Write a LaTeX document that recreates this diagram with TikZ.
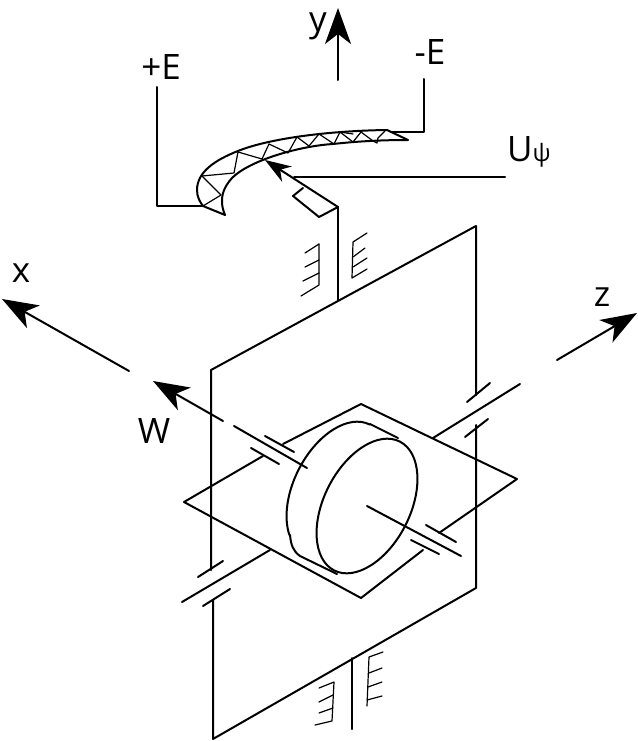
\documentclass[tikz,border=0pt]{standalone}
\usepackage{fontspec}
\setmainfont{Open Sans}
\usetikzlibrary{arrows.meta}
\tikzset{
  heavy/.style={line width=2pt},
  fine/.style={line width=1.2pt},
  axisarrow/.style={line width=2pt,-{Stealth[length=36pt,width=26pt,inset=10pt]}},
  lab/.style={inner sep=0pt,font=\fontsize{35}{35}\selectfont}
}
\begin{document}
\begin{tikzpicture}[line cap=round,line join=round,x=1pt,y=-1pt]
	\useasboundingbox (0,0) rectangle (637,741);
	% axes
	\draw [axisarrow] (338,80)-- (338,8);
	\draw [axisarrow] (129,371)-- (2,299);
	\draw [axisarrow] (223,421)-- (153,381);
	\draw [axisarrow] (557,360)-- (637,313);
	\node [lab] (ylab) at (318,26) {y};
	\node [lab] (xlab) at (21,273) {x};
	\node [lab] (zlab) at (602,297) {z};
	\node [lab] (wlab) at (154,431) {W};
	\node [lab] (pluslab) at (161,67) {+E};
	\node [lab] (minuslab) at (430,52) {-E};
	\node [lab,anchor=west] (ulab) at (507,152) {U\fontsize{24}{24}\selectfont ψ};
	% leads
	\draw [heavy] (157,87)-- (157,206)-- (204,206);
	\draw [heavy] (424,79)-- (424,132)-- (392,132);
	\draw [heavy] (505,177)-- (294,177);
	% horn
	\draw [heavy] (387,130) .. controls (320,131) and (265,140) .. (238,151)
		.. controls (215,160) and (197,172) .. (197,190)
		.. controls (197,197) and (200,202) .. (203,206)-- (225,215)
		.. controls (218,198) and (224,187) .. (232,178)
		.. controls (250,160) and (300,146) .. (333,144)
		.. controls (360,141) and (385,140) .. (408,140)-- cycle;
	\draw [fine] (202,176)-- (234,173)-- (238,152)-- (262,159)-- (269,144)-- (288,153)-- (297,137)-- (309,146)-- (319,134)-- (334,144)-- (340,132)-- (353,142)-- (361,132)-- (373,141)-- (377,143)-- (378,138)-- (385,131);
	\draw [fine] (202,176)-- (221,195)-- (203,206);
	\draw [fine] (340,132)-- (353,134);
	% rocker and arrow
	\draw [heavy] (338,207)-- (319,217)-- (293,196)-- (303,188);
	\draw [line width=2pt,-{Stealth[length=26pt,width=18pt,inset=8pt]}] (338,207)-- (265,160);
	\draw [heavy] (338,207)-- (338,300);
	% upper bearing
	\draw [fine] (367,233)-- (353,242)-- (352,278)-- (367,269);
	\draw [fine] (353,257)-- (365,248);
	\draw [fine] (353,267)-- (367,258);
	\draw [fine] (319,244)-- (319,285)-- (301,296);
	\draw [fine] (319,244)-- (305,253);
	\draw [fine] (319,260)-- (305,267);
	\draw [fine] (319,273)-- (303,281);
	% outer frame
	\draw [heavy] (476,395)-- (476,226)-- (211,370)-- (211,570);
	\draw [heavy] (476,425)-- (476,588)-- (213,739)-- (213,600);
	% lower bearing
	\draw [heavy] (352,658)-- (352,729);
	\draw [fine] (383,652)-- (369,657)-- (367,706);
	\draw [fine] (369,673)-- (382,668);
	\draw [fine] (368,687)-- (382,682);
	\draw [fine] (367,700)-- (382,696);
	\draw [fine] (319,688)-- (334,682)-- (332,721)-- (315,725);
	\draw [fine] (319,702)-- (333,695);
	\draw [fine] (319,713)-- (333,708);
	% z spindle
	\draw [heavy] (182,602)-- (270,550);
	\draw [heavy] (433,438)-- (520,384);
	\draw [heavy] (198,577)-- (223,561);
	\draw [heavy] (203,606)-- (230,589);
	\draw [heavy] (467,402)-- (490,383);
	\draw [heavy] (465,437)-- (488,419);
	% inner gimbal
	\draw [heavy] (283,444)-- (361,404)-- (517,479)-- (439,533);
	\draw [heavy] (263,456)-- (184,502)-- (361,598)-- (423,550);
	% x spindle
	\draw [heavy] (234,426)-- (307,468);
	\draw [heavy] (367,506)-- (461,556);
	\draw [heavy] (265,436)-- (294,452);
	\draw [heavy] (251,448)-- (279,464);
	\draw [heavy] (426,525)-- (456,542);
	\draw [heavy] (411,540)-- (439,554);
	% rotor
	\draw [heavy,shift={(367,506)},rotate=63] (0pt,0pt) circle [x radius=72.3pt,y radius=43pt];
	\draw [heavy,shift={(337,489)},rotate=63] (72.3pt,0pt) arc [start angle=0,end angle=150,x radius=72.3pt,y radius=43pt];
	\draw [heavy] (290,535) .. controls (291,545) and (293,551) .. (300,556)-- (337,574);
	\draw [heavy] (370,424)-- (398,438);
\end{tikzpicture}
\end{document}
